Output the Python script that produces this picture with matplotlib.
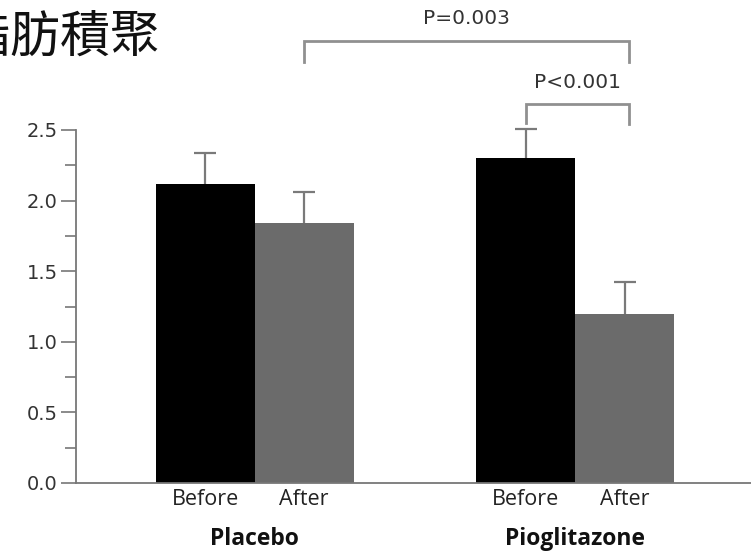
import matplotlib
matplotlib.use("Agg")
import matplotlib.pyplot as plt
import numpy as np

groups = ["Placebo", "Pioglitazone"]
conditions = ["Before", "After"]
values = [2.12, 1.84, 2.30, 1.20]
errors = [0.22, 0.22, 0.21, 0.22]
positions = [0.0, 1.0, 3.24, 4.24]
bar_colors = ["#000000", "#6b6b6b", "#000000", "#6b6b6b"]
yticks = [0.0, 0.5, 1.0, 1.5, 2.0, 2.5]
ytick_labels = ["0.0", "0.5", "1.0", "1.5", "2.0", "2.5"]
pvals = ["P=0.003", "P<0.001"]
title = "脂肪積聚"

W, H = 751, 553
fig = plt.figure(figsize=(W / 100, H / 100), dpi=100)
ax_l, ax_r = 76, 751
ax_b, ax_t = 483, 130
ax = fig.add_axes([ax_l / W, (H - ax_b) / H, (ax_r - ax_l) / W, (ax_b - ax_t) / H])

px = 99.0
x0 = 205.0
ax.set_xlim((ax_l - x0) / px, (ax_r - x0) / px)
ax.set_ylim(0, 2.5)

ax.bar(positions, values, width=1.0, color=bar_colors, edgecolor="none", zorder=2)
eb = ax.errorbar(positions, values, yerr=[np.zeros(4), errors], fmt="none",
                 ecolor="#7a7a7a", elinewidth=1.6, capsize=8, capthick=1.6, zorder=3)
# hide the lower caps (they sit on the bar top)
caps = eb[1]
if len(caps) == 2:
    caps[0].set_visible(False)
for c in caps:
    c.set_clip_on(False)
for lc in eb[2]:
    lc.set_clip_on(False)

for s in ["top", "right"]:
    ax.spines[s].set_visible(False)
for s in ["left", "bottom"]:
    ax.spines[s].set_color("#777777")
    ax.spines[s].set_linewidth(1.3)

ax.set_yticks(yticks)
ax.set_yticklabels(ytick_labels, fontsize=14, color="#333333", family="DejaVu Sans")
ax.set_yticks(np.arange(0.25, 2.5, 0.5), minor=True)
ax.tick_params(axis="y", which="major", length=11, width=1.2, color="#777777", pad=2)
ax.tick_params(axis="y", which="minor", length=8, width=1.2, color="#777777")
ax.set_xticks([])

# category labels
for p, c in zip(positions, conditions * 2):
    ax.text(p, -0.12, c, ha="center", va="center", fontsize=15.5, color="#222222",
            family="Open Sans")
ax.text((positions[0] + positions[1]) / 2, -0.40, groups[0], ha="center", va="center",
        fontsize=16.5, fontweight="bold", color="#111111", family="Open Sans")
ax.text((positions[2] + positions[3]) / 2, -0.40, groups[1], ha="center", va="center",
        fontsize=16.5, fontweight="bold", color="#111111", family="Open Sans")

def ypx(y):
    return (ax_b - y) / (ax_b - ax_t) * 2.5

def bracket(x1, x2, ytop, yl, yr, label, ylab):
    ax.plot([x1, x1, x2, x2], [ypx(yl), ypx(ytop), ypx(ytop), ypx(yr)],
            color="#909090", lw=2.0, clip_on=False, solid_joinstyle="miter")
    ax.text((x1 + x2) / 2, ypx(ylab), label, ha="center", va="center",
            fontsize=14.5, color="#333333", clip_on=False, family="DejaVu Sans")

bracket(positions[1], positions[3] + 0.04, 41, 62, 62, pvals[0], 19)
bracket(positions[2], positions[3] + 0.04, 104, 123, 124, pvals[1], 82)

fig.text(-40 / W, 1 - 38 / H, title, ha="left", va="center", fontsize=36,
         family=["Noto Sans CJK TC", "DejaVu Sans"], color="#111111")

fig.savefig("out.png", dpi=100)
